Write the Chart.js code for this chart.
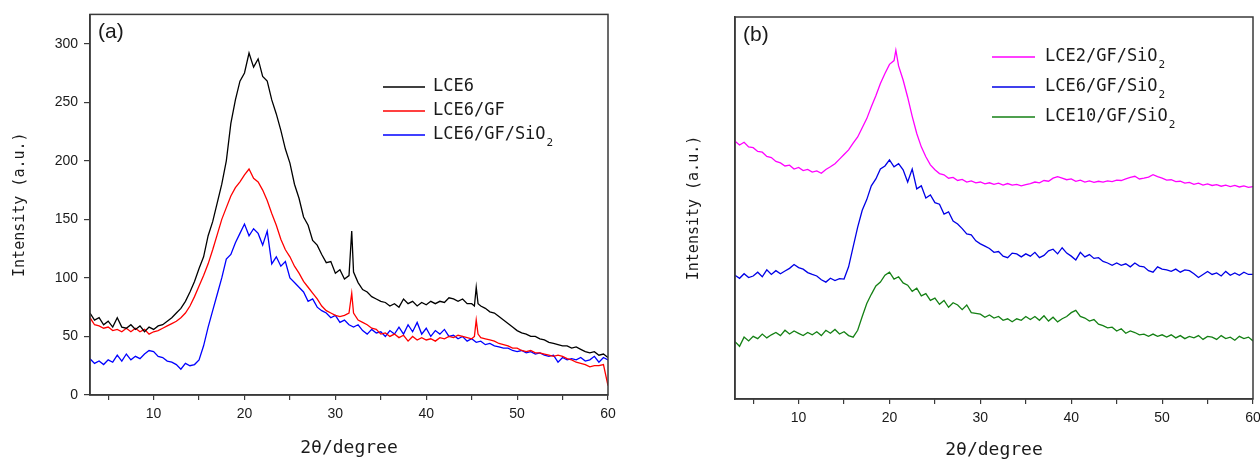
<!DOCTYPE html>
<html>
<head>
<meta charset="utf-8">
<script src="https://cdn.jsdelivr.net/npm/chart.js@4/dist/chart.umd.min.js"></script>
<style>
html,body{margin:0;padding:0;background:#fff;overflow:hidden;}
#wrap{position:relative;width:1260px;height:461px;}
canvas{position:absolute;top:0;}
#ca{left:0;} #cb{left:630px;}
</style>
</head>
<body>
<div id="wrap">
<canvas id="ca" width="630" height="461"></canvas>
<canvas id="cb" width="630" height="461"></canvas>
</div>
<script>
// ---------- Data ----------
const xTicks = [5,10,15,20,25,30,35,40,45,50,55,60];
const yTicksA = [0,50,100,150,200,250,300];
const namesA = ['LCE6','LCE6/GF','LCE6/GF/SiO₂'];
const namesB = ['LCE2/GF/SiO₂','LCE6/GF/SiO₂','LCE10/GF/SiO₂'];

// panel (a): [2θ, intensity]
const lce6 = [[3,70],[3.5,64],[4,66],[4.5,60],[5,63],[5.5,58],[6,66],[6.5,58],[7,57],[7.5,60],[8,56],[8.5,59],[9,54],[9.5,58],[10,56],[10.5,59],[11,60],[11.5,63],[12,66],[12.5,70],[13,74],[13.5,80],[14,88],[14.5,97],[15,108],[15.5,118],[16,136],[16.5,148],[17,164],[17.5,180],[18,200],[18.5,232],[19,252],[19.5,268],[20,275],[20.5,292],[21,280],[21.5,287],[22,272],[22.5,268],[23,252],[23.5,240],[24,226],[24.5,210],[25,198],[25.5,180],[26,168],[26.5,152],[27,145],[27.5,132],[28,128],[28.5,120],[29,113],[29.5,114],[30,104],[30.5,107],[31,99],[31.5,102],[31.8,140],[32,105],[32.5,96],[33,90],[33.5,88],[34,84],[34.5,82],[35,80],[35.5,79],[36,76],[36.5,78],[37,75],[37.5,82],[38,78],[38.5,80],[39,76],[39.5,79],[40,77],[40.5,80],[41,78],[41.5,80],[42,79],[42.5,83],[43,82],[43.5,80],[44,82],[44.5,78],[45,78],[45.3,76],[45.5,92],[45.7,78],[46,76],[46.5,74],[47,71],[47.5,70],[48,67],[48.5,64],[49,61],[49.5,58],[50,55],[50.5,53],[51,52],[51.5,50],[52,50],[52.5,48],[53,47],[53.5,45],[54,44],[54.5,43],[55,42],[55.5,42],[56,40],[56.5,41],[57,39],[57.5,37],[58,36],[58.5,37],[59,34],[59.5,35],[60,32]];
const lce6gf = [[3,66],[3.5,60],[4,59],[4.5,57],[5,58],[5.5,55],[6,56],[6.5,54],[7,57],[7.5,54],[8,57],[8.5,54],[9,56],[9.5,52],[10,54],[10.5,55],[11,57],[11.5,59],[12,61],[12.5,63],[13,66],[13.5,70],[14,76],[14.5,84],[15,93],[15.5,102],[16,112],[16.5,124],[17,137],[17.5,150],[18,160],[18.5,170],[19,177],[19.5,182],[20,188],[20.5,193],[21,185],[21.5,182],[22,175],[22.5,166],[23,155],[23.5,145],[24,133],[24.5,124],[25,118],[25.5,110],[26,104],[26.5,97],[27,92],[27.5,87],[28,82],[28.5,76],[29,72],[29.5,70],[30,68],[30.5,67],[31,68],[31.5,70],[31.8,87],[32,70],[32.5,64],[33,62],[33.5,60],[34,57],[34.5,56],[35,52],[35.5,53],[36,50],[36.5,52],[37,49],[37.5,51],[38,46],[38.5,50],[39,47],[39.5,49],[40,47],[40.5,48],[41,46],[41.5,49],[42,48],[42.5,50],[43,49],[43.5,51],[44,50],[44.5,49],[45,48],[45.3,50],[45.5,64],[45.7,52],[46,49],[46.5,48],[47,47],[47.5,46],[48,44],[48.5,43],[49,42],[49.5,40],[50,40],[50.5,38],[51,37],[51.5,38],[52,36],[52.5,36],[53,35],[53.5,34],[54,33],[54.5,34],[55,33],[55.5,31],[56,30],[56.5,28],[57,27],[57.5,26],[58,24],[58.5,25],[59,25],[59.5,26],[60,8]];
const lce6gfsio2 = [[3,31],[3.5,27],[4,29],[4.5,26],[5,30],[5.5,28],[6,34],[6.5,29],[7,35],[7.5,30],[8,33],[8.5,31],[9,35],[9.5,38],[10,37],[10.5,33],[11,32],[11.5,29],[12,28],[12.5,26],[13,22],[13.5,27],[14,25],[14.5,26],[15,30],[15.5,42],[16,58],[16.5,72],[17,86],[17.5,100],[18,116],[18.5,120],[19,130],[19.5,138],[20,146],[20.5,136],[21,142],[21.5,138],[22,128],[22.5,140],[23,112],[23.5,118],[24,110],[24.5,114],[25,100],[25.5,96],[26,92],[26.5,88],[27,80],[27.5,82],[28,75],[28.5,72],[29,70],[29.5,66],[30,68],[30.5,62],[31,64],[31.5,60],[32,58],[32.5,60],[33,55],[33.5,52],[34,56],[34.5,53],[35,54],[35.5,50],[36,55],[36.5,52],[37,58],[37.5,52],[38,60],[38.5,54],[39,62],[39.5,52],[40,57],[40.5,50],[41,55],[41.5,52],[42,56],[42.5,50],[43,51],[43.5,48],[44,50],[44.5,46],[45,48],[45.5,45],[46,46],[46.5,43],[47,44],[47.5,42],[48,41],[48.5,40],[49,40],[49.5,38],[50,37],[50.5,38],[51,36],[51.5,37],[52,35],[52.5,36],[53,34],[53.5,33],[54,34],[54.5,28],[55,32],[55.5,30],[56,31],[56.5,30],[57,32],[57.5,29],[58,30],[58.5,33],[59,28],[59.5,32],[60,30]];

// panel (b): [2θ, intensity (offset, a.u.)]
const lce2b = [[3,67.5],[3.5,66.5],[4,67.2],[4.5,66],[5,65.8],[5.5,64.8],[6,64.6],[6.5,63.5],[7,63.2],[7.5,62.2],[8,61.8],[8.5,61],[9,61.2],[9.5,60.2],[10,60.6],[10.5,59.8],[11,60.1],[11.5,59.4],[12,59.7],[12.5,59.1],[13,60.1],[13.5,60.8],[14,61.6],[14.5,62.8],[15,64],[15.5,65.2],[16,67],[16.5,68.6],[17,71],[17.5,73.4],[18,76.5],[18.5,79.4],[19,82.6],[19.5,85.2],[20,87.6],[20.5,88.6],[20.7,91.3],[21,87.2],[21.5,83.5],[22,79],[22.5,74],[23,69.5],[23.5,66],[24,63.4],[24.5,61.3],[25,60],[25.5,59],[26,58.7],[26.5,57.8],[27,58],[27.5,57.2],[28,57.5],[28.5,56.8],[29,57.1],[29.5,56.6],[30,56.8],[30.5,56.3],[31,56.6],[31.5,56.2],[32,56.5],[32.5,56],[33,56.4],[33.5,56],[34,56.2],[34.5,55.8],[35,56.1],[35.5,56.4],[36,56.8],[36.5,56.6],[37,57.2],[37.5,57],[38,57.8],[38.5,58.2],[39,57.8],[39.5,57.4],[40,57.6],[40.5,57],[41,57.3],[41.5,56.8],[42,57.1],[42.5,56.7],[43,57],[43.5,56.8],[44,57.1],[44.5,56.9],[45,57.3],[45.5,57.2],[46,57.6],[46.5,58],[47,58.3],[47.5,57.6],[48,57.8],[48.5,58.1],[49,58.7],[49.5,58.2],[50,57.8],[50.5,57.3],[51,57.4],[51.5,56.9],[52,57],[52.5,56.5],[53,56.7],[53.5,56.2],[54,56.5],[54.5,56],[55,56.3],[55.5,55.9],[56,56.1],[56.5,55.7],[57,56],[57.5,55.6],[58,55.9],[58.5,55.5],[59,55.8],[59.5,55.4],[60,55.6]];
const lce6b = [[3,32.4],[3.5,31.6],[4,32.8],[4.5,31.8],[5,32.2],[5.5,33.2],[6,32],[6.5,33.8],[7,32.6],[7.5,33.6],[8,32.8],[8.5,33.5],[9,34.2],[9.5,35.2],[10,34.4],[10.5,34],[11,33.1],[11.5,32.6],[12,32.2],[12.5,31.2],[13,30.6],[13.5,31.6],[14,31],[14.5,31.5],[15,31.4],[15.5,34.6],[16,39.8],[16.5,45],[17,49.4],[17.5,52.2],[18,55.8],[18.5,57.6],[19,60.2],[19.5,61],[20,62.6],[20.5,60.8],[21,61.6],[21.5,60],[22,56.8],[22.5,60.2],[23,55],[23.5,55.8],[24,52.6],[24.5,53.4],[25,51.4],[25.5,51],[26,48.4],[26.5,49],[27,46.6],[27.5,45.8],[28,44.6],[28.5,43.2],[29,43],[29.5,41.4],[30,40.6],[30.5,40],[31,39.4],[31.5,38.4],[32,38.6],[32.5,37.4],[33,37],[33.5,38.2],[34,38],[34.5,37.2],[35,38],[35.5,37.4],[36,38.4],[36.5,37],[37,37.6],[37.5,38.8],[38,39.2],[38.5,38],[39,39.6],[39.5,38.2],[40,37.4],[40.5,36.4],[41,38.4],[41.5,37.2],[42,37.8],[42.5,36.8],[43,37],[43.5,36],[44,35.6],[44.5,35],[45,35.6],[45.5,35],[46,35.4],[46.5,34.6],[47,35.6],[47.5,34.8],[48,34.6],[48.5,33.6],[49,33.2],[49.5,34.6],[50,34],[50.5,33.8],[51,33.4],[51.5,34],[52,33.2],[52.5,33.8],[53,33.6],[53.5,32.8],[54,31.8],[54.5,32.6],[55,33.4],[55.5,32.6],[56,33],[56.5,32.2],[57,33.4],[57.5,32.4],[58,33],[58.5,32.4],[59,33.2],[59.5,32.6],[60,32.6]];
const lce10b = [[3,15],[3.5,13.8],[4,16.2],[4.5,15.2],[5,16.4],[5.5,15.8],[6,17],[6.5,16],[7,16.8],[7.5,17.4],[8,16.6],[8.5,18],[9,17],[9.5,17.8],[10,17.2],[10.5,16.6],[11,17.4],[11.5,16.8],[12,17.6],[12.5,16.6],[13,18],[13.5,17.2],[14,18.2],[14.5,17],[15,17.6],[15.5,16.6],[16,16.2],[16.5,18],[17,21.6],[17.5,25],[18,27.4],[18.5,29.6],[19,30.6],[19.5,32.4],[20,33.2],[20.5,31.4],[21,32],[21.5,30.4],[22,29.8],[22.5,28.2],[23,29],[23.5,27],[24,27.6],[24.5,25.8],[25,26.4],[25.5,24.8],[26,25.8],[26.5,24],[27,25.2],[27.5,24.6],[28,23.4],[28.5,24.6],[29,22.6],[29.5,22.4],[30,22.2],[30.5,21.4],[31,22],[31.5,21.2],[32,21.6],[32.5,20.6],[33,21],[33.5,20.2],[34,21],[34.5,20.6],[35,21.6],[35.5,20.8],[36,21.6],[36.5,20.6],[37,21.8],[37.5,20.4],[38,21.4],[38.5,20.2],[39,21],[39.5,21.6],[40,22.6],[40.5,23.2],[41,21.6],[41.5,21.2],[42,20.4],[42.5,20.8],[43,19.6],[43.5,19.2],[44,18.6],[44.5,18.8],[45,17.8],[45.5,18.4],[46,17.2],[46.5,17.8],[47,17.4],[47.5,16.8],[48,17],[48.5,16.4],[49,17],[49.5,16.4],[50,16.8],[50.5,16.2],[51,16.8],[51.5,16],[52,16.6],[52.5,15.8],[53,16.4],[53.5,16],[54,16.6],[54.5,15.6],[55,16.4],[55.5,16.2],[56,15.6],[56.5,16.6],[57,15.8],[57.5,16.2],[58,15.4],[58.5,16.4],[59,15.8],[59.5,16.2],[60,15.2]];

const colorsA = ['#000000','#ff0000','#0000ff'];
const colorsB = ['#ff00ff','#0000e6','#148014'];

// ---------- helpers ----------
const toXY = arr => arr.map(p => ({x:p[0], y:p[1]}));
const AXIS = '#3a3a3a', TXT = '#1a1a1a';
const MONO = '"DejaVu Sans Mono", "Liberation Mono", monospace';
const SANS = '"Liberation Sans", Arial, sans-serif';

function decoPlugin(cfg){
  return {
    id:'deco',
    afterDraw(chart){
      const {ctx, chartArea:a} = chart;
      ctx.save();
      ctx.strokeStyle = AXIS; ctx.lineWidth = 1.5;
      ctx.strokeRect(a.left, a.top, a.right-a.left, a.bottom-a.top);
      ctx.fillStyle = TXT; ctx.textBaseline = 'middle'; ctx.textAlign = 'left';
      ctx.font = '21px ' + SANS;
      ctx.fillText(cfg.panel, a.left + 8, a.top + 18);
      chart.data.datasets.forEach((ds, i) => {
        const y = cfg.ly + i*cfg.dy;
        ctx.strokeStyle = ds.borderColor; ctx.lineWidth = 1.4;
        ctx.beginPath(); ctx.moveTo(cfg.lx, y); ctx.lineTo(cfg.lx + cfg.lw, y); ctx.stroke();
        ctx.fillStyle = TXT;
        let txt = ds.label, sub = '';
        if (txt.endsWith('₂')) { txt = txt.slice(0, -1); sub = '2'; }
        ctx.font = '17px ' + MONO;
        ctx.fillText(txt, cfg.tx, y);
        if (sub) {
          const w = ctx.measureText(txt).width;
          ctx.font = '11px ' + MONO;
          ctx.fillText(sub, cfg.tx + w + 1, y + 8);
        }
      });
      ctx.restore();
    }
  };
}

function xScale(titlePad, h){
  return {
    type:'linear', min:3, max:60,
    afterBuildTicks: s => { s.ticks = xTicks.map(v => ({value:v})); },
    afterFit: s => { s.height = h; s.paddingRight = 0; s.paddingLeft = 0; },
    ticks:{ color:TXT, font:{family:SANS, size:14}, padding:6, maxRotation:0, autoSkip:false,
      callback: v => (v % 10 === 0 ? String(v) : '') },
    grid:{ drawOnChartArea:false, drawTicks:true, tickLength:5, color:AXIS, lineWidth:1.2 },
    border:{ display:true, color:AXIS, width:1.5 },
    title:{ display:true, text:'2θ/degree', color:TXT, font:{family:MONO, size:18}, padding:{top:0,bottom:titlePad} }
  };
}

function makeChart(id, names, series, colors, yOpts, deco, pad){
  return new Chart(document.getElementById(id), {
    type:'line',
    data:{ datasets: series.map((s, i) => ({
      label:names[i], data:toXY(s), borderColor:colors[i], backgroundColor:colors[i],
      borderWidth:1.3, pointRadius:0, tension:0, fill:false
    })) },
    options:{
      responsive:false, animation:false, devicePixelRatio:1,
      layout:{ padding:pad },
      plugins:{ legend:{display:false}, tooltip:{enabled:false} },
      scales:{ x: xScale(deco.xtp, deco.xh), y: yOpts }
    },
    plugins:[decoPlugin(deco)]
  });
}

// panel (a)
makeChart('ca', namesA, [lce6, lce6gf, lce6gfsio2], colorsA, {
  type:'linear', min:0, max:325,
  afterBuildTicks: s => { s.ticks = yTicksA.map(v => ({value:v})); },
  afterFit: s => { s.width = 90; },
  ticks:{ color:TXT, font:{family:SANS, size:14}, padding:6 },
  grid:{ drawOnChartArea:false, drawTicks:true, tickLength:6, color:AXIS, lineWidth:1.2 },
  border:{ display:true, color:AXIS, width:1.5 },
  title:{ display:true, text:'Intensity (a.u.)', color:TXT, font:{family:MONO, size:15}, padding:{top:11,bottom:0} }
}, {panel:'(a)', lx:383, lw:42, ly:87, dy:24, tx:433, xh:66, xtp:2}, {left:0, right:22, top:13, bottom:0});

// panel (b)
makeChart('cb', namesB, [lce2b, lce6b, lce10b], colorsB, {
  type:'linear', min:0, max:100,
  afterFit: s => { s.width = 105; },
  ticks:{ display:false },
  grid:{ drawOnChartArea:false, drawTicks:false },
  border:{ display:true, color:AXIS, width:1.5 },
  title:{ display:true, text:'Intensity (a.u.)', color:TXT, font:{family:MONO, size:15}, padding:{top:55,bottom:0} }
}, {panel:'(b)', lx:362, lw:43, ly:57, dy:30, tx:415, xh:62, xtp:0}, {left:0, right:7, top:17, bottom:0});
</script>
</body>
</html>
